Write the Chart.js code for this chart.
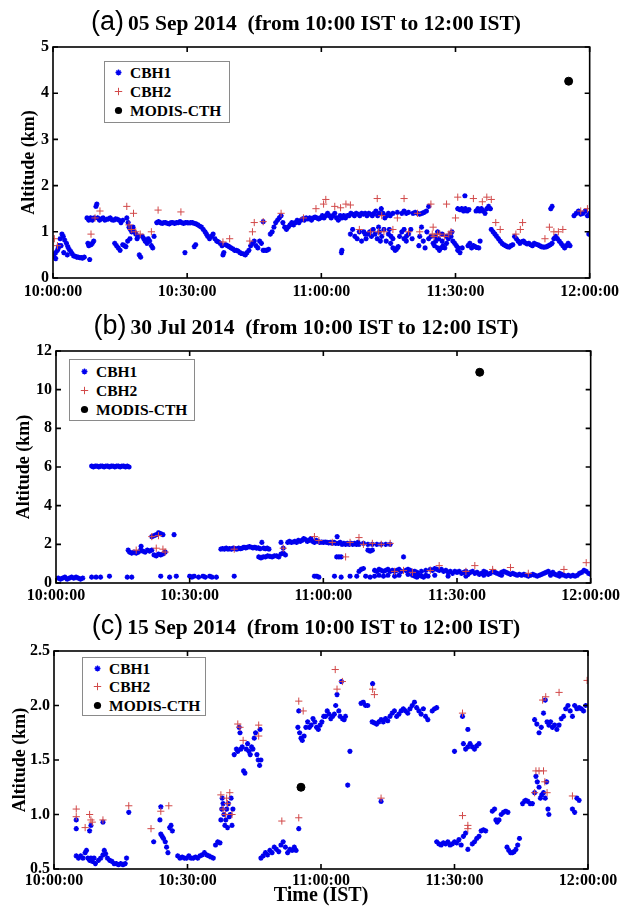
<!DOCTYPE html>
<html>
<head>
<meta charset="utf-8">
<script src="https://cdn.jsdelivr.net/npm/chart.js@4.4.1/dist/chart.umd.min.js"></script>
<style>
html,body{margin:0;padding:0;background:#fff;}
body{width:623px;height:906px;position:relative;overflow:hidden;font-family:"Liberation Serif","Times New Roman",serif;color:#000;}
canvas{position:absolute;left:0;}
.ttl{position:absolute;left:0;width:612px;text-align:center;line-height:30px;white-space:nowrap;}
.ttl .p{font-family:"Liberation Sans",Arial,sans-serif;font-size:27px;font-weight:normal;}
.ttl .t{font-size:21.5px;font-weight:bold;}
.leg{position:absolute;border:1px solid #8a8a8a;background:#fff;box-sizing:border-box;}
.row{position:absolute;left:0;height:18px;line-height:18px;font-size:15.5px;font-weight:bold;white-space:nowrap;}
.row svg{position:absolute;top:4px;}
.row span{position:absolute;}
</style>
</head>
<body>
<canvas id="ca" width="623" height="300" style="top:0px"></canvas>
<canvas id="cb" width="623" height="310" style="top:300px"></canvas>
<canvas id="cc" width="623" height="296" style="top:610px"></canvas>

<div class="ttl" style="top:6px"><span class="p">(a)</span> <span class="t">05 Sep 2014&nbsp; (from 10:00 IST to 12:00 IST)</span></div>
<div class="ttl" style="top:310px"><span class="p">(b)</span> <span class="t">30 Jul 2014&nbsp; (from 10:00 IST to 12:00 IST)</span></div>
<div class="ttl" style="top:610px"><span class="p">(c)</span> <span class="t">15 Sep 2014&nbsp; (from 10:00 IST to 12:00 IST)</span></div>

<div id="la" class="leg" style="left:104px;top:61px;width:126px;height:62px"></div>
<div id="lb" class="leg" style="left:69px;top:359px;width:126px;height:62px"></div>
<div id="lc" class="leg" style="left:82px;top:657px;width:124px;height:59px"></div>

<script>
// ---------- data (time in minutes after 10:00 IST, altitude in km) ----------
const seriesNames = ['CBH1', 'CBH2', 'MODIS-CTH'];
const timeTickValues = [0, 30, 60, 90, 120];
const timeTickLabels = ['10:00:00', '10:30:00', '11:00:00', '11:30:00', '12:00:00'];
const aYTicks = [0, 1, 2, 3, 4, 5];
const bYTicks = [0, 2, 4, 6, 8, 10, 12];
const cYTicks = [0.5, 1, 1.5, 2, 2.5];

const aCBH1 = [
[0,0.5],[0.3,0.45],[0.6,0.55],[1,0.6],[1.3,0.7],[1.6,0.85],[2,0.95],[2.3,0.9],[2.6,0.82],[3,0.75],[3.3,0.68],[3.6,0.62],[4,0.57],[4.3,0.52],[4.6,0.48],[5,0.47],[5.3,0.45],[5.6,0.45],[6,0.44],[6.3,0.44],[6.6,0.43],[7,0.45],
[0.6,0.42],[1.2,0.65],[1.8,0.7],[2.4,0.55],[3.2,0.5],
[7.8,0.75],[8,0.7],[8.2,0.4],[8.5,0.72],[8.8,0.75],[9.1,0.8],
[7.6,1.3],[8,1.25],[8.4,1.3],[8.8,1.25],[9.2,1.3],[9.6,1.55],[9.8,1.6],[10,1.3],[10.4,1.25],[10.8,1.28],[11.2,1.3],[11.6,1.25],[12,1.27],[12.4,1.28],[12.8,1.3],[13.2,1.26],[13.6,1.25],[14,1.28],[14.4,1.27],[14.8,1.25],[15.2,1.2],[15.6,1.25],
[13.8,0.75],[14.2,0.7],[14.6,0.65],[15,0.6],[15.6,0.72],[16,0.7],[16.3,0.68],
[16.5,1.3],[16.8,1.2],[17,1.1],[17.3,1.05],[17.6,1.0],[17.9,1.1],[18.2,1.0],[18.5,0.95],[18.8,0.85],[19.1,0.9],[19.3,0.5],[19.6,0.45],[16.7,0.8],[17.2,0.85],
[20,0.9],[20.3,0.85],[20.6,0.8],[21,0.75],[21.3,0.85],[21.6,0.8],[22,0.7],[22.3,0.65],[22.6,0.9],
[23.2,1.2],[23.6,1.22],[24,1.2],[24.4,1.18],[24.8,1.2],[25.2,1.2],[25.6,1.18],[26,1.17],[26.4,1.2],[26.8,1.2],[27.2,1.18],[27.6,1.2],[28,1.2],[28.4,1.22],[28.8,1.2],[29.2,1.18],[29.6,1.2],[30,1.2],[30.4,1.19],[30.8,1.2],[31.2,1.2],[31.6,1.18],[32,1.17],[32.4,1.15],[32.8,1.12],[33.2,1.1],[33.6,1.05],
[29.5,0.55],[31.6,0.68],[31.9,0.72],
[34,1.0],[34.3,0.95],[34.6,0.9],[35,0.85],[35.4,0.9],[35.8,0.95],[36.2,0.85],[36.6,0.8],[37,0.78],[37.4,0.75],[37.8,0.7],[38,0.5],[38.2,0.55],
[38.6,0.72],[39,0.7],[39.4,0.68],[39.8,0.65],[40.2,0.63],[40.6,0.6],[41,0.6],[41.4,0.58],[41.8,0.55],[42.2,0.53],[42.6,0.52],[43,0.5],[43.4,0.55],[43.8,0.6],
[44.2,0.7],[44.6,0.75],[45,0.8],[45.4,0.7],[45.8,0.65],[46.2,0.8],[46.6,0.75],[47,0.6],[47.4,0.6],[47.8,0.6],[48.2,0.62],[47,1.22],
[48.6,0.95],[49,1.0],[49.4,1.1],[49.8,1.2],[50.2,1.25],[50.6,1.3],[51,1.35],[51.4,1.2],[51.8,1.1],[52.2,1.05],[52.6,1.1],[53,1.15],[53.4,1.2],[53.8,1.15],
[54.2,1.2],[54.6,1.25],[55,1.2],[55.4,1.25],[55.8,1.28],[56.2,1.25],[56.6,1.3],[57,1.28],[57.4,1.3],[57.8,1.25],[58.2,1.3],[58.6,1.32],[59,1.3],[59.4,1.28],[59.8,1.3],
[60.2,1.35],[60.6,1.3],[61,1.35],[61.4,1.4],[61.8,1.35],[62.2,1.3],[62.6,1.35],[63,1.4],[63.4,1.3],[63.8,1.25],[64.2,1.35],[64.6,1.3],[65,1.35],[65.4,1.3],[65.8,1.35],[66.2,1.35],[66.6,1.4],[67,1.38],[67.4,1.35],[67.8,1.4],[68.2,1.38],[68.6,1.35],[69,1.4],[69.4,1.38],[69.8,1.4],[70.2,1.35],[70.6,1.4],[71,1.38],[71.4,1.35],[71.8,1.4],[72.2,1.45],
[64.5,0.55],[64.6,0.6],
[69.5,1.0],[69.8,0.95],[70,0.85],[70.4,0.95],[70.8,1.0],[71.2,0.9],[71.6,1.05],[72,0.95],
[66.5,0.95],[67,1.05],[67.5,0.9],[68,0.85],[68.5,1.0],[69,0.8],[72.5,0.85],[72.8,1.1],[73.2,0.8],
[72.6,1.35],[73,1.4],[73.4,1.5],[73.8,1.4],[74.2,1.3],[74.6,1.35],[75,1.4],[75.4,1.35],[76,1.4],[77,1.42],[78,1.4],[78.5,1.45],[79,1.4],[79.5,1.42],
[73,1.0],[73.5,0.9],[74,1.05],[74.5,0.8],[75,0.95],[75.5,0.75],[76,0.65],[76.5,0.6],[77,0.65],[77.5,0.9],[78,1.0],[78.5,0.85],[79,0.8],[79.5,0.95],[80,1.05],
[75.2,1.05],[75.6,0.9],[76,0.85],[76.8,0.62],[77.2,0.68],[78.5,1.05],[79,0.9],[80.3,0.85],
[80.5,1.4],[81,1.42],[81.5,1.4],[82,1.38],[82.5,1.4],[83,1.42],[83.5,1.45],[84,1.55],
[81.8,0.7],[82,0.9],[82.4,1.1],[82.8,0.8],[83.2,0.65],[83.6,1.0],[84,0.85],
[84.5,0.9],[85,0.75],[85.3,0.7],[85.6,0.8],[86,0.65],[86.4,0.6],[86.8,0.65],[87.2,0.7],[87.6,0.65],[88,0.75],[88.4,0.85],[88.8,0.95],[89,0.9],[89.4,0.8],[89.8,0.75],[90.2,0.7],[90.6,0.65],[86,1.0],[87,0.95],[88,0.9],[89.2,1.0],
[85.5,0.9],[86.2,0.85],[87,0.8],[90.5,0.6],[91,0.55],[91.5,0.65],
[90.5,1.5],[91,1.48],[91.4,1.5],[91.8,1.45],[92.2,1.5],[92.6,1.45],[93,1.48],[92.1,1.78],
[92.8,0.7],[93.2,0.75],[93.6,0.65],[94,0.7],[94.4,0.68],[94.8,0.66],[95.2,0.65],[95.5,0.8],
[94.6,1.45],[95,1.5],[95.4,1.45],[95.8,1.5],[96.2,1.45],[96.6,1.4],[97,1.5],[97.4,1.55],[97.8,1.5],
[98,1.05],[98.4,1.0],[98.8,0.95],[99.2,0.9],[99.6,0.85],[100,0.8],[100.4,0.75],[100.8,0.72],[101.2,0.7],[101.6,0.68],[102,0.67],[102.4,0.7],[102.8,0.72],
[103.2,0.9],[103.6,0.85],[104,0.8],[104.4,0.75],[104.8,0.78],[105.2,0.8],[105.6,0.76],[106,0.74],[106.4,0.75],[106.8,0.72],[107.2,0.7],[107.6,0.75],[108,0.73],[108.4,0.72],[108.8,0.7],[109.2,0.68],[109.6,0.67],
[110,0.67],[110.4,0.68],[110.8,0.7],[111.2,0.72],[111.6,0.75],[112,0.85],[112.4,0.9],[112.8,0.85],[113.2,0.8],[113.6,0.75],[114,0.7],[114.4,0.65],[114.8,0.7],[115.2,0.75],[115.6,0.7],
[111.3,1.5],[111.6,1.55],
[116.5,1.35],[117,1.4],[117.5,1.45],[118,1.38],[118.5,1.4],[119,1.45],[119.5,1.35],[120,1.4],[119.8,0.95]
];
const aCBH2 = [
[0.3,0.85],[1,0.7],[8.5,0.95],[9.4,1.3],[10.5,1.45],[16.5,1.55],[17,1.15],[17.5,1.05],[18,1.4],[18.5,1.0],[19.5,0.95],[22,1.0],[23.5,1.47],[28.6,1.43],[38,0.78],[39.5,0.85],[44,0.8],[44.6,1.0],[45,1.2],[47,1.22],[51,1.4],[56,1.3],[58.8,1.5],[60.5,1.6],[61,1.7],[63,1.55],[64.3,1.52],[65.5,1.6],[66.5,1.58],[71,1.0],[72.5,1.72],[73.5,1.35],[74,1.0],[77,1.3],[78.5,1.72],[79.5,1.0],[81.5,1.4],[84.5,1.6],[85,1.1],[86.5,0.95],[87.5,0.9],[88.5,0.95],[89,1.0],[90.5,1.75],[94,1.72],[96,1.65],[97,1.75],[98,1.7],[99,1.2],[100,1.05],[103.5,0.95],[104.5,1.05],[105,1.2],[110,0.85],[111,1.1],[112,1.0],[113,1.0],[114,1.05],[118,1.45],[119.5,1.5],
[68.5,1.05],[72.8,1.0],[76,1.05],[82,1.0],[84.8,0.95],[85.2,0.9],[86,0.95],[90,1.3],[88,1.6]
];
const aMODIS = [[115.3,4.26]];

const bCBH1 = [
[0.5,0.25],[1,0.2],[1.5,0.25],[2,0.3],[2.5,0.2],[3,0.25],[3.5,0.3],[4,0.25],[4.5,0.3],[5,0.25],[5.5,0.2],[6,0.25],
[8,0.3],[9,0.3],[10,0.3],[12,0.35],[16,0.3],[17,0.3],
[8,6.05],[8.4,6.0],[8.8,6.05],[9.2,6.05],[9.6,6.0],[10,6.05],[10.4,6.05],[10.8,6.0],[11.2,6.05],[11.6,6.05],[12,6.0],[12.4,6.05],[12.8,6.05],[13.2,6.0],[13.6,6.05],[14,6.05],[14.4,6.0],[14.8,6.05],[15.2,6.05],[15.6,6.0],[16,6.05],[16.4,6.0],
[16.2,1.7],[16.5,1.6],[17,1.55],[17.5,1.6],[18,1.55],[18.5,1.6],[19,1.7],[19.1,1.9],[19.5,1.65],[20,1.6],[20.5,1.7],[21,1.65],[21.5,1.7],
[21.5,2.4],[22,2.45],[22.5,2.5],[23,2.6],[23.5,2.55],[24,2.5],[26.5,2.5],
[22,1.45],[22.5,1.4],[23,1.5],[23.5,1.45],[24,1.5],[24.5,1.6],
[23.5,0.35],[25.5,0.3],[27,0.35],[30,0.35],[30.5,0.3],[31,0.35],[32,0.3],[33,0.35],[33.5,0.3],[34.5,0.35],[35,0.3],[36,0.3],[40,0.35],
[37,1.75],[37.4,1.78],[37.8,1.75],[38.2,1.8],[38.6,1.75],[39,1.78],[39.4,1.75],[39.8,1.8],[40.2,1.78],[40.6,1.75],[41,1.8],[41.4,1.78],[41.8,1.8],[42.2,1.85],[42.6,1.82],[43,1.85],[43.4,1.88],[43.8,1.85],[44.2,1.82],[44.6,1.85],[45,1.8],[45.4,1.82],[45.8,1.78],[46.2,2.1],[46.6,1.8],[47,1.78],[47.4,1.8],[47.8,1.75],
[45.5,1.35],[46,1.3],[46.5,1.35],[47,1.35],[47.5,1.4],[48,1.38],[48.5,1.35],[49,1.4],[49.5,1.4],[50,1.35],[50.5,1.5],[51,1.55],[51.5,1.45],
[50.5,2.1],[51,1.8],
[52,2.1],[52.4,2.15],[52.8,2.1],[53.2,2.12],[53.6,2.15],[54,2.1],[54.4,2.2],[54.8,2.15],[55.2,2.2],[55.6,2.3],[56,2.25],[56.4,2.15],[56.8,2.2],[57.2,2.3],[57.6,2.15],[58,2.1],[58.4,2.2],[58.8,2.15],[59.2,2.1],[59.6,2.12],[60,2.1],[60.4,2.12],[60.8,2.1],[61.2,2.08],[61.6,2.1],[62,2.05],[62.4,2.1],[62.8,2.05],[63.1,2.4],[63.4,2.05],[63.8,2.1],[64.2,2.0],[64.6,2.05],[65,2.0],[65.4,2.05],[65.8,2.0],[66.2,2.05],[66.6,2.0],[67,2.05],[67.4,2.0],[67.8,2.1],
[68,2.0],[69,2.05],[70,2.0],[71,2.0],[72,2.0],[73,2.0],[74,2.0],[75,2.0],
[63,1.35],[63.5,1.35],[64,1.35],[70,1.7],[70.5,1.65],[71,1.7],
[58,0.35],[58.5,0.35],[59,0.3],[62.5,0.35],[64,0.3],[66,0.35],[67.5,0.35],[68,0.6],[68.5,0.7],[69,0.75],[69.5,0.35],[70.5,0.3],
[71.5,0.65],[72,0.6],[72.5,0.7],[73,0.65],[73.5,0.6],[74,0.65],[74.5,0.7],[75,0.6],[75.5,0.65],[76,0.6],[76.5,0.65],[77,0.7],[77.5,0.6],[78,1.35],[78.5,0.65],[79,0.7],[79.5,0.65],[80,0.6],
[71.5,0.35],[72.5,0.4],[73.5,0.35],[74.5,0.4],[76,0.35],[77,0.4],[79,0.45],[80,0.4],[80.5,0.35],[81,0.3],[81.5,0.4],[82,0.35],[82.5,0.3],[83,0.4],[83.5,0.35],
[80.5,0.6],[81,0.55],[82,0.6],[83,0.65],[84,0.7],[84.5,0.65],[85,0.75],[85.5,0.7],[86,0.65],[86.5,0.7],[87,0.6],[87.5,0.65],[88,0.55],[88.5,0.6],[89,0.5],[89.5,0.6],[90,0.55],[90.5,0.6],[91,0.5],[91.5,0.55],[92,0.6],[92.5,0.45],[93,0.55],[93.5,0.6],[94,0.5],[94.5,0.55],[95,0.45],[95.5,0.5],[96,0.6],[96.5,0.55],[97,0.45],[97.5,0.5],[98,0.6],[98.5,0.55],[99,0.5],[99.5,0.45],[100,0.55],[100.5,0.6],[101,0.55],[101.5,0.5],[102,0.45],[102.5,0.5],[103,0.45],[103.5,0.4],[104,0.45],[104.5,0.4],[105,0.45],[105.5,0.4],[106,0.35],[106.5,0.4],[107,0.45],[107.5,0.4],[108,0.35],[108.5,0.4],[109,0.45],[109.5,0.5],[110,0.55],[110.5,0.6],[111,0.5],[111.5,0.55],[112,0.45],[112.5,0.4],[113,0.5],[113.5,0.45],[114,0.4],[114.5,0.35],[115,0.4],[115.5,0.35],[116,0.4],[116.5,0.35],[117,0.4],[117.5,0.5],[118,0.55],[118.5,0.65],[119,0.6],[119.5,0.5],[120,0.45],
[85,0.4],[88,0.35],[92,0.35],[96,0.4],[100,0.4],[111,0.4],[113,0.35]
];
const bCBH2 = [
[21.5,2.4],[22.5,1.8],[23,2.45],[24,1.75],[24.5,1.6],[18,1.7],[40,1.75],[51,1.8],[58,2.4],[59,2.2],[62,2.1],[66,2.1],[68,2.35],[69,2.0],[71,2.05],[73,2.0],[75,2.05],[65,1.35],[84,0.65],[86,0.9],[92,0.6],[94,0.9],[98,0.7],[102,0.8],[106,0.5],[114,0.7],[119,1.05],[76,0.6],[78,0.65],[80,0.55]
];
const bMODIS = [[95.1,10.9]];

const cCBH1 = [
[5,0.62],[5.5,0.6],[6,0.62],[6.5,0.6],[7,0.65],[7.3,0.67],[7.6,0.6],[8,0.58],[8.3,0.6],[8.6,0.57],[9,0.6],[9.3,0.55],
[5,0.87],[5,0.95],[8,0.85],[8.3,0.9],[11,0.93],
[10,0.58],[10.5,0.6],[11,0.63],[11.3,0.67],[11.6,0.64],[12,0.6],[12.5,0.58],[13,0.57],[13.5,0.55],[14,0.55],[14.5,0.54],[15,0.55],[15.5,0.54],[16,0.55],[16.3,0.6],
[16.8,1.02],[22.4,0.75],
[23.8,0.95],[24,0.82],[24.3,0.8],[24.6,0.78],[25,0.75],[25.3,0.7],[25.6,0.65],[26,0.88],[26.3,0.9],[26.6,0.85],[24,1.07],
[27.8,0.62],[28.3,0.6],[28.8,0.61],[29.3,0.6],[29.8,0.6],[30.3,0.62],[30.8,0.6],[31.3,0.6],[31.8,0.61],[32.3,0.6],[32.8,0.62],[33.3,0.63],[33.8,0.65],[34.3,0.63],[34.8,0.62],[35.3,0.61],[35.8,0.6],
[36.3,0.72],[36.8,0.75],[37.3,0.74],
[37.5,0.95],[37.7,1.05],[38,1.1],[38.2,1.0],[38.4,0.9],[38.6,0.95],[38.8,1.05],[39,0.88],[39.2,1.1],[39.4,0.98],[39.6,1.0],[39.8,1.15],[40,0.9],[40.2,1.05],[37.8,1.15],
[40.5,1.55],[41,1.6],[41.3,1.58],[41.6,1.8],[41.8,1.75],[42,1.6],[42.3,1.62],[42.6,1.4],[42.9,1.38],[43.2,1.6],[43.5,1.65],[43.8,1.58],[44.1,1.55],[44.4,1.62],[44.7,1.6],[45,1.7],[45.3,1.75],[45.6,1.55],[45.9,1.5],[46.2,1.45],[46.5,1.5],[46.3,1.78],
[46.5,0.6],[47,0.62],[47.5,0.65],[48,0.63],[48.5,0.67],[49,0.65],[49.5,0.7],[50,0.68],[50.5,0.66],[51,0.72],[51.5,0.75],[52,0.7],[52.5,0.65],[53,0.68],[53.5,0.67],[54,0.7],[54.4,0.67],
[55,0.87],
[54.8,1.8],[55,1.95],[55.2,1.75],[55.5,1.7],[55.8,1.68],[56.2,1.72],[56.6,1.8],[57,1.85],[57.4,1.8],[57.8,1.82],[58.2,1.88],[58.6,1.85],[59,1.8],[59.4,1.78],[59.8,1.82],[60.2,1.85],
[60.6,1.9],[61,1.9],[61.4,1.95],[61.8,1.92],[62.2,1.88],[62.6,1.9],[63,1.92],[63.3,2.0],[63.6,2.1],[64,1.95],[64.3,1.9],[64.6,2.22],[64.8,1.88],[65.2,1.87],[65.5,1.9],
[66,1.27],[66.5,1.58],
[69,2.02],[69.5,2.03],[70,2.0],[70.5,2.0],[71.6,2.2],
[71.5,1.85],[72,1.84],[72.5,1.83],[73,1.85],[73.5,1.87],[74,1.85],[74.5,1.88],[75,1.86],[75.5,1.9],[76,1.93],[76.5,1.95],[77,1.9],[77.5,1.92],[78,1.95],[78.5,1.97],[79,1.95],[79.5,1.93],[80,1.97],[80.5,2.0],[81,2.03],[81.5,1.98],[82,1.95],[82.5,1.92],[83,1.97],[83.5,1.9],[84,1.87],[85,1.95],[85.5,1.97],[86,1.98],
[73.5,1.12],
[90,1.58],[91.8,1.9],[92,1.65],[92.5,1.6],[93,1.62],[93.5,1.65],[94,1.62],[94.5,1.6],[95,1.63],[95.5,1.65],[93,1.78],
[86,0.75],[86.5,0.73],[87,0.72],[87.5,0.74],[88,0.73],[88.5,0.75],[89,0.72],[89.5,0.73],[90,0.75],[90.5,0.74],[91,0.77],[91.5,0.72],[92,0.8],[92.5,0.83],[93,0.68],
[94,0.73],[94.5,0.75],[95,0.78],[95.5,0.8],[96,0.85],[96.5,0.86],[97,0.85],
[98.5,1.03],[99,1.05],[99.3,0.95],[99.6,0.93],[100,0.95],[100.5,1.0],[101,1.02],[101.5,1.03],[102,1.02],
[101.8,0.7],[102.2,0.67],[102.6,0.65],[103,0.65],[103.4,0.66],[103.8,0.68],[104.2,0.72],[104.6,0.78],
[105.3,1.1],[105.7,1.12],[106,1.13],[106.5,1.12],[107,1.1],[107.5,1.1],[108,1.2],[108.3,1.35],[108.6,1.3],[109,1.25],[109.3,1.15],[109.6,1.18],[110,1.2],[110.4,1.15],[110.7,1.3],[111,1.05],[111.2,1.0],
[108,1.87],[108.5,1.83],[109,1.75],[109.5,1.8],[110,1.93],[110.4,2.05],[110.8,1.85],[111.2,1.82],[111.6,1.85],[112,1.8],[112.5,1.82],[113,1.78],[113.5,1.82],[114,1.88],[114.5,1.9],[115,1.97],[115.5,2.0],[116,1.95],[116.5,1.9],[117,2.0],[117.5,1.97],[118,1.98],[118.5,1.97],[119,1.95],[119.5,2.0],
[116.5,1.05],[117,1.02],[117.5,1.15],[118,1.13]
];
const cCBH2 = [
[5,1.05],[5,0.98],[7,0.88],[8,1.0],[8.3,0.95],[8.6,0.93],[11,0.95],[16.8,1.08],[21.8,0.87],[24,1.03],[25.8,1.08],[37.5,1.18],[38,1.05],[38.5,1.0],[39,1.1],[39.5,1.2],[40,1.0],[38.8,1.15],[41.3,1.83],[41.8,1.8],[42.5,1.68],[46,1.82],[46,1.72],[51.2,0.94],[55,0.97],[55,2.04],[56,1.95],[63.2,2.33],[63.6,2.15],[64.8,2.22],[71.6,2.15],[72,2.1],[73.5,1.15],[91.8,1.93],[91.8,0.99],[93,0.9],[93,0.87],[108.3,1.4],[109,1.4],[110,1.4],[110.3,1.3],[110.8,1.2],[109.8,2.05],[110.5,2.08],[113.5,2.12],[116.5,1.17],[119.8,2.23],[108,1.2]
];
const cMODIS = [[55.5,1.25]];

// ---------- styling ----------
const SERIF = '"Liberation Serif","Times New Roman",serif';
const BLUE = '#0000ee';
const RED = '#d24a4a';

const framePlugin = {
  id: 'frame',
  afterDatasetsDraw(chart) {
    const {ctx, chartArea: a, scales} = chart;
    ctx.save();
    ctx.strokeStyle = '#000';
    ctx.lineWidth = 1.6;
    ctx.strokeRect(a.left, a.top, a.right - a.left, a.bottom - a.top);
    const L = 5;
    ctx.beginPath();
    scales.x.ticks.forEach(t => {
      const px = scales.x.getPixelForValue(t.value);
      ctx.moveTo(px, a.bottom); ctx.lineTo(px, a.bottom - L);
      ctx.moveTo(px, a.top); ctx.lineTo(px, a.top + L);
    });
    scales.y.ticks.forEach(t => {
      const py = scales.y.getPixelForValue(t.value);
      ctx.moveTo(a.left, py); ctx.lineTo(a.left + L, py);
      ctx.moveTo(a.right, py); ctx.lineTo(a.right - L, py);
    });
    ctx.stroke();
    ctx.restore();
  }
};

const toPts = arr => arr.map(p => ({x: p[0], y: p[1]}));

function makeChart(id, cfg) {
  return new Chart(document.getElementById(id), {
    type: 'scatter',
    data: {
      datasets: [
        {label: seriesNames[0], data: toPts(cfg.cbh1), pointStyle: 'star', pointRadius: 2.6, pointBorderWidth: 1.5,
         pointBorderColor: BLUE, pointBackgroundColor: BLUE, order: 3},
        {label: seriesNames[1], data: toPts(cfg.cbh2), pointStyle: 'cross', pointRadius: 3.6, pointBorderWidth: 1,
         pointBorderColor: RED, pointBackgroundColor: RED, order: 2},
        {label: seriesNames[2], data: toPts(cfg.modis), pointStyle: 'circle', pointRadius: 4,
         pointBorderColor: '#000', pointBackgroundColor: '#000', order: 1}
      ]
    },
    options: {
      responsive: false, animation: false, devicePixelRatio: 1,
      layout: {padding: {top: cfg.padTop, right: cfg.padRight, left: 0, bottom: 0}},
      plugins: {legend: {display: false}, tooltip: {enabled: false}, title: {display: false}},
      scales: {
        x: {
          type: 'linear', min: 0, max: 120,
          afterBuildTicks: s => { s.ticks = timeTickValues.map(v => ({value: v})); },
          ticks: {callback: (v, i) => timeTickLabels[i], color: '#000', padding: cfg.xTickPad, maxRotation: 0, autoSkip: false,
                  font: {family: SERIF, size: 16, weight: 'bold'}},
          grid: {display: false, drawTicks: false}, border: {display: false},
          afterFit: s => { s.height = cfg.xH; },
          title: {display: !!cfg.xTitle, text: cfg.xTitle || '', color: '#000', padding: {top: 0, bottom: 0},
                  font: {family: SERIF, size: 20, weight: 'bold', lineHeight: 1}}
        },
        y: {
          type: 'linear', min: cfg.yTicks[0], max: cfg.yTicks[cfg.yTicks.length - 1],
          afterBuildTicks: s => { s.ticks = cfg.yTicks.map(v => ({value: v})); },
          ticks: {color: '#000', padding: 4, font: {family: SERIF, size: 16, weight: 'bold'}},
          grid: {display: false, drawTicks: false}, border: {display: false},
          afterFit: s => { s.width = cfg.yW; },
          title: {display: true, text: 'Altitude (km)', color: '#000', padding: {top: cfg.yTitlePad, bottom: 0},
                  font: {family: SERIF, size: 18, weight: 'bold'}}
        }
      }
    },
    plugins: [framePlugin]
  });
}

makeChart('ca', {cbh1: aCBH1, cbh2: aCBH2, modis: aMODIS, yTicks: aYTicks, padTop: 47, padRight: 30, yW: 53, xH: 22, xTickPad: 4, yTitlePad: 19});
makeChart('cb', {cbh1: bCBH1, cbh2: bCBH2, modis: bMODIS, yTicks: bYTicks, padTop: 51, padRight: 30, yW: 56, xH: 27, xTickPad: 3, yTitlePad: 14});
makeChart('cc', {cbh1: cCBH1, cbh2: cCBH2, modis: cMODIS, yTicks: cYTicks, padTop: 41, padRight: 35, yW: 54, xH: 37, xTickPad: 2, yTitlePad: 10, xTitle: 'Time (IST)'});

// ---------- HTML legends ----------
const markerSvgs = [
  `<svg width="9" height="9" viewBox="0 0 9 9"><path d="M4.5 1.5V7.5M1.5 4.5H7.5M2.4 2.4L6.6 6.6M6.6 2.4L2.4 6.6" stroke="${BLUE}" stroke-width="1.4"/></svg>`,
  `<svg width="9" height="9" viewBox="0 0 9 9"><path d="M4.5 0.8V8.2M0.8 4.5H8.2" stroke="${RED}" stroke-width="1"/></svg>`,
  `<svg width="9" height="9" viewBox="0 0 9 9"><circle cx="4.5" cy="4.5" r="3.6" fill="#000"/></svg>`
];
function buildLegend(id, rowTops, markerX, textX) {
  const el = document.getElementById(id);
  seriesNames.forEach((name, i) => {
    const r = document.createElement('div');
    r.className = 'row';
    r.style.top = rowTops[i] + 'px';
    r.innerHTML = markerSvgs[i].replace('<svg ', `<svg style="left:${markerX - 4.5}px" `) +
      `<span style="left:${textX}px">${name}</span>`;
    el.appendChild(r);
  });
}
buildLegend('la', [2, 21, 40], 13, 25);
buildLegend('lb', [3, 22, 41], 14, 26);
buildLegend('lc', [2, 20, 39], 14, 26);
</script>
</body>
</html>
